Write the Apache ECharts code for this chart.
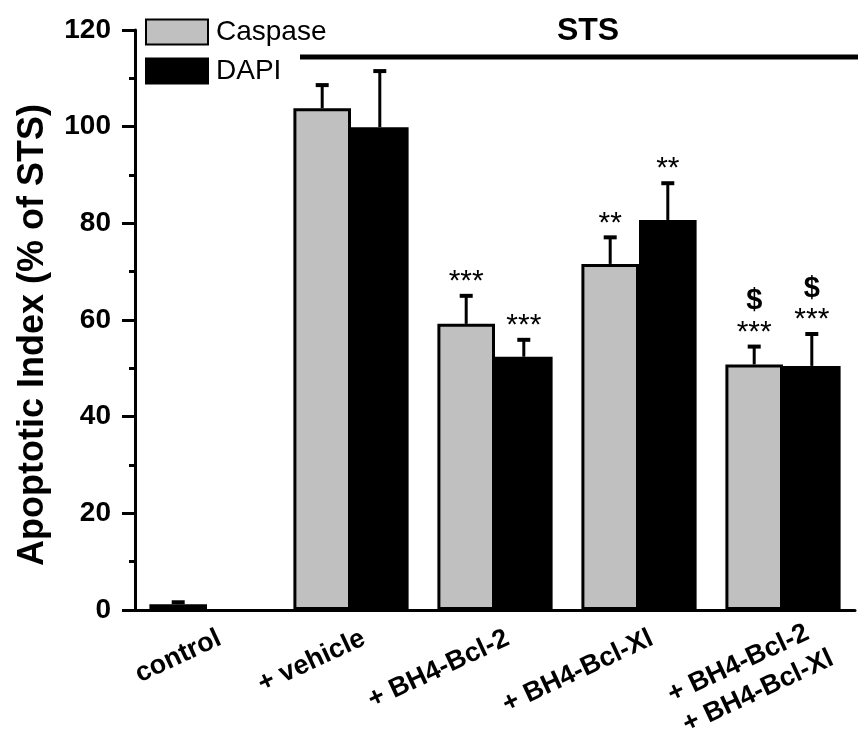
<!DOCTYPE html>
<html>
<head>
<meta charset="utf-8">
<script src="https://cdn.jsdelivr.net/npm/echarts@6/dist/echarts.min.js"></script>
<style>
  html, body { margin: 0; padding: 0; background: #fff; }
  #chart { width: 858px; height: 740px; }
</style>
</head>
<body>
<div id="chart"></div>
<script>
// données
const categories = ['control', '+ vehicle', '+ BH4-Bcl-2', '+ BH4-Bcl-Xl', '+ BH4-Bcl-2\n+ BH4-Bcl-Xl'];
const caspase = [1.2, 103.8, 59.2, 71.6, 50.8];
const caspaseErr = [0.4, 4.8, 5.8, 5.5, 3.7];
const dapi = ['-', 99.9, 52.4, 80.7, 50.5];
const dapiErr = ['-', 11.6, 3.5, 7.6, 6.6];
const caspaseStars = ['', '', '***', '**', '***'];
const dapiStars = ['', '', '***', '**', '***'];
const caspaseDollar = ['', '', '', '', '$'];
const dapiDollar = ['', '', '', '', '$'];

const FONT = 'Liberation Sans, Arial, sans-serif';

// libellés sur une ligne -> axe 0 ; libellé sur deux lignes -> axes 1 et 2 (une ligne chacun)
const isMulti = v => v.indexOf('\n') >= 0;
const labelStyle = { interval: 0, rotate: 25, fontSize: 27, fontWeight: 'bold', color: '#000' };

// barres d'erreur (haut seulement) + étoiles
function errorSeries(vals, errs, stars, dollars, side) {
    return {
        type: 'custom',
        xAxisIndex: 0,
        yAxisIndex: 0,
        z: 5,
        data: vals.map((v, i) => [i, v, errs[i]]),
        renderItem: function (params, api) {
            const v = api.value(1);
            const e = api.value(2);
            if (isNaN(v) || isNaN(e)) return;
            const i = api.value(0);
            const band = api.size([1, 0])[0];
            const base = api.coord([i, v]);
            const x = base[0] + side * band * 0.2;
            const top = api.coord([i, v + e])[1];
            const children = [
                { type: 'line', shape: { x1: x, y1: base[1], x2: x, y2: top }, style: { stroke: '#000', lineWidth: 3 } },
                { type: 'line', shape: { x1: x - 6.5, y1: top, x2: x + 6.5, y2: top }, style: { stroke: '#000', lineWidth: 4 } }
            ];
            if (stars[i]) {
                children.push({
                    type: 'text', x: x, y: top + 1,
                    style: { text: stars[i], font: '30px ' + FONT, fill: '#000', align: 'center', verticalAlign: 'bottom' }
                });
            }
            if (dollars[i]) {
                children.push({
                    type: 'text', x: x, y: top - 31,
                    style: { text: dollars[i], font: 'bold 29px ' + FONT, fill: '#000', align: 'center', verticalAlign: 'bottom' }
                });
            }
            return { type: 'group', children: children };
        }
    };
}

const myChart = echarts.init(document.getElementById('chart'));

myChart.setOption({
    animation: false,
    textStyle: { fontFamily: FONT },
    grid: { left: 135, right: 3, top: 30, bottom: 130, outerBoundsMode: 'none' },
    legend: {
        orient: 'vertical',
        left: 145,
        top: 18,
        padding: 0,
        itemGap: 11,
        itemWidth: 62,
        itemHeight: 25,
        icon: 'rect',
        data: ['Caspase', 'DAPI'],
        textStyle: { fontSize: 28, color: '#000', padding: [0, 0, 0, 3] }
    },
    xAxis: [
        {
            type: 'category',
            data: categories,
            position: 'bottom',
            axisLine: { lineStyle: { color: '#000', width: 3 } },
            axisTick: { length: 7, lineStyle: { color: '#000', width: 3 } },
            axisLabel: Object.assign({}, labelStyle, {
                margin: 33, padding: [0, -14, 0, 0],
                formatter: v => isMulti(v) ? '' : v
            })
        },
        {
            type: 'category',
            data: categories,
            position: 'bottom',
            axisLine: { show: false },
            axisTick: { alignWithLabel: true, length: 15, lineStyle: { color: '#000', width: 3 } },
            axisLabel: Object.assign({}, labelStyle, {
                margin: 33, padding: [0, -27, 0, 0],
                formatter: v => isMulti(v) ? v.split('\n')[0] : ''
            })
        },
        {
            type: 'category',
            data: categories,
            position: 'bottom',
            axisLine: { show: false },
            axisTick: { show: false },
            axisLabel: Object.assign({}, labelStyle, {
                margin: 70, padding: [0, -54, 0, 0],
                formatter: v => isMulti(v) ? v.split('\n')[1] : ''
            })
        }
    ],
    yAxis: {
        type: 'value',
        min: 0,
        max: 120,
        interval: 20,
        name: 'Apoptotic Index (% of STS)',
        nameLocation: 'middle',
        nameGap: 84,
        nameTextStyle: { fontSize: 36, fontWeight: 'bold', color: '#000', padding: [0, 30, 0, 0] },
        axisLine: { show: true, lineStyle: { color: '#000', width: 3 } },
        axisTick: { show: true, length: 13, lineStyle: { color: '#000', width: 3 } },
        minorTick: { show: true, splitNumber: 2, length: 6, lineStyle: { color: '#000', width: 3 } },
        splitLine: { show: false },
        axisLabel: { fontSize: 28, fontWeight: 'bold', color: '#000', margin: 24 }
    },
    graphic: [
        { type: 'line', shape: { x1: 300, y1: 57, x2: 858, y2: 57 }, style: { stroke: '#000', lineWidth: 5 } },
        { type: 'text', x: 588, y: 31, style: { text: 'STS', font: 'bold 32px ' + FONT, fill: '#000', align: 'center', verticalAlign: 'middle' } }
    ],
    series: [
        {
            name: 'Caspase',
            type: 'bar',
            data: caspase,
            barWidth: '40%',
            barGap: '0%',
            itemStyle: { color: '#c0c0c0', borderColor: '#000', borderWidth: 3 }
        },
        {
            name: 'DAPI',
            type: 'bar',
            data: dapi,
            barWidth: '40%',
            barGap: '0%',
            itemStyle: { color: '#000', borderColor: '#000', borderWidth: 3 }
        },
        errorSeries(caspase, caspaseErr, caspaseStars, caspaseDollar, -1),
        errorSeries(dapi, dapiErr, dapiStars, dapiDollar, 1)
    ]
});
</script>
</body>
</html>
